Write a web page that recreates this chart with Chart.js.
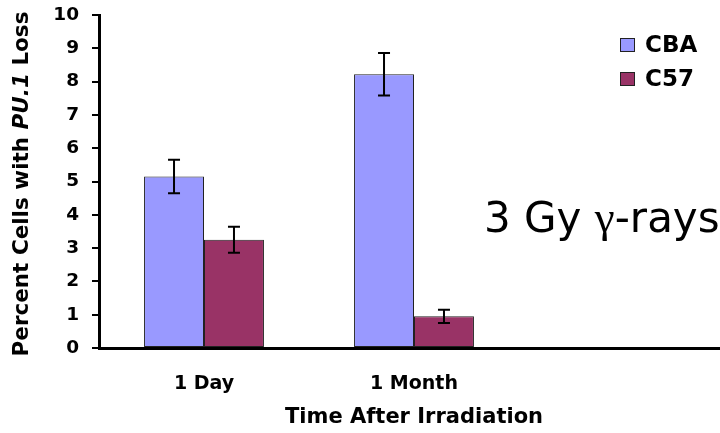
<!DOCTYPE html>
<html>
<head>
<meta charset="utf-8">
<script src="https://cdn.jsdelivr.net/npm/chart.js@4/dist/chart.umd.min.js"></script>
<style>
  html, body { margin: 0; padding: 0; background: #fff; overflow: hidden; }
  #wrap { width: 720px; height: 433px; overflow: hidden; position: relative; }
  canvas { display: block; }
</style>
</head>
<body>
<div id="wrap"><canvas id="chart" width="732" height="433"></canvas></div>
<script>
// Time points (third slot left empty so the axis runs on past the data)
const categories = ['1 Day', '1 Month', ''];
const seriesNames = ['CBA', 'C57'];
const cbaValues = [5.15, 8.22, null];
const cbaErrors = [0.50, 0.64, null];
const c57Values = [3.25, 0.95, null];
const c57Errors = [0.39, 0.20, null];
const yTicks = [0, 1, 2, 3, 4, 5, 6, 7, 8, 9, 10];

const colors = ['#9999ff', '#993366'];
const FONT = "'DejaVu Sans', 'Liberation Sans', Arial, sans-serif";
const SERIF = "'Liberation Serif', 'DejaVu Serif', serif";

// Error whiskers drawn on top of each bar
const errorBars = {
  id: 'errorBars',
  afterDatasetsDraw(chart) {
    const ctx = chart.ctx;
    const y = chart.scales.y;
    ctx.save();
    ctx.strokeStyle = '#000';
    ctx.lineWidth = 2;
    chart.data.datasets.forEach((ds, di) => {
      const meta = chart.getDatasetMeta(di);
      meta.data.forEach((bar, i) => {
        const v = ds.data[i], e = ds.errors[i];
        if (v == null || e == null) return;
        const x = bar.x;
        const yTop = y.getPixelForValue(v + e);
        const yBot = y.getPixelForValue(v - e);
        ctx.beginPath();
        ctx.moveTo(x, yTop); ctx.lineTo(x, yBot);
        ctx.moveTo(x - 6, yTop); ctx.lineTo(x + 6, yTop);
        ctx.moveTo(x - 6, yBot); ctx.lineTo(x + 6, yBot);
        ctx.stroke();
      });
    });
    ctx.restore();
  }
};

// Legend box, rotated y title with italic gene name, and dose note
const decorations = {
  id: 'decorations',
  afterDraw(chart) {
    const ctx = chart.ctx;
    ctx.save();

    // legend
    chart.data.datasets.forEach((ds, i) => {
      const yc = 45 + i * 34;
      ctx.fillStyle = ds.backgroundColor;
      ctx.fillRect(620, yc - 7, 15, 14);
      ctx.strokeStyle = '#222';
      ctx.lineWidth = 1;
      ctx.strokeRect(620.5, yc - 6.5, 14, 13);
      ctx.fillStyle = '#000';
      ctx.font = 'bold 23px ' + FONT;
      ctx.textBaseline = 'middle';
      ctx.textAlign = 'left';
      ctx.fillText(ds.label, 645, yc + 1);
    });

    // y axis title
    const parts = [
      { t: 'Percent Cells with ', f: 'bold 21.5px ' + FONT },
      { t: 'PU.1', f: 'italic bold 21.5px ' + FONT },
      { t: ' Loss', f: 'bold 21.5px ' + FONT }
    ];
    let total = 0;
    parts.forEach(p => { ctx.font = p.f; p.w = ctx.measureText(p.t).width; total += p.w; });
    ctx.translate(22, 184);
    ctx.rotate(-Math.PI / 2);
    ctx.textBaseline = 'middle';
    ctx.textAlign = 'left';
    ctx.fillStyle = '#000';
    let x = -total / 2;
    parts.forEach(p => { ctx.font = p.f; ctx.fillText(p.t, x, 0); x += p.w; });
    ctx.setTransform(1, 0, 0, 1, 0, 0);

    // dose note, gamma set in a serif face
    ctx.textBaseline = 'alphabetic';
    ctx.textAlign = 'left';
    const note = [
      { t: '3 Gy ', f: '42px ' + FONT },
      { t: '\u03b3', f: '45px ' + SERIF },
      { t: '-rays', f: '42px ' + FONT }
    ];
    let nx = 484;
    note.forEach(p => { ctx.font = p.f; ctx.fillText(p.t, nx, 232); nx += ctx.measureText(p.t).width; });

    ctx.restore();
  }
};

new Chart(document.getElementById('chart'), {
  type: 'bar',
  data: {
    labels: categories,
    datasets: [
      { label: seriesNames[0], data: cbaValues, errors: cbaErrors, backgroundColor: colors[0],
        borderColor: '#222', borderWidth: 1, borderSkipped: false },
      { label: seriesNames[1], data: c57Values, errors: c57Errors, backgroundColor: colors[1],
        borderColor: '#222', borderWidth: 1, borderSkipped: false }
    ]
  },
  options: {
    responsive: false,
    animation: false,
    devicePixelRatio: 1,
    layout: { padding: { top: 15, right: 3, left: 0, bottom: 0 }, autoPadding: false },
    categoryPercentage: 0.571,
    barPercentage: 1.0,
    plugins: { legend: { display: false }, tooltip: { enabled: false } },
    scales: {
      x: {
        grid: { display: true, drawOnChartArea: false, drawTicks: false, color: 'rgba(0,0,0,0)' },
        border: { display: true, color: '#000', width: 3 },
        ticks: { color: '#000', font: { family: FONT, size: 19, weight: 'bold' }, padding: 25, maxRotation: 0 },
        title: { display: true, text: 'Time After Irradiation', color: '#000',
                 font: { family: FONT, size: 21, weight: 'bold' }, padding: { top: 6, bottom: 3 } },
        afterFit(s) { s.height = 85; s.paddingLeft = 0; s.paddingRight = 0; }
      },
      y: {
        min: 0, max: 10,
        afterBuildTicks(s) { s.ticks = yTicks.map(v => ({ value: v })); },
        grid: { display: true, drawOnChartArea: false, drawTicks: true, tickLength: 7, color: '#000', lineWidth: 2 },
        border: { display: true, color: '#000', width: 3 },
        ticks: { color: '#000', font: { family: FONT, size: 18.5, weight: 'bold' }, padding: 13 },
        afterFit(s) { s.width = 99; s.paddingTop = 0; s.paddingBottom = 0; }
      }
    }
  },
  plugins: [errorBars, decorations]
});
</script>
</body>
</html>
